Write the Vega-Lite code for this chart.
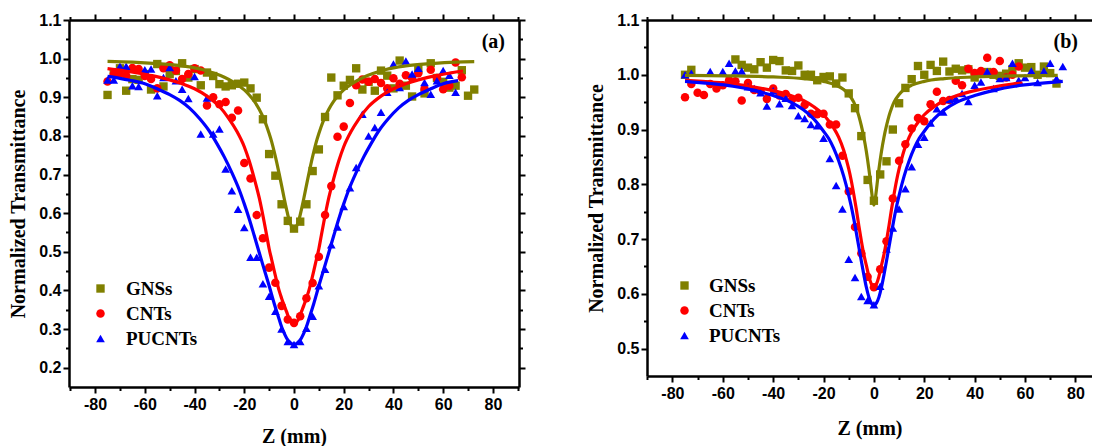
{
"$schema":"https://vega.github.io/schema/vega-lite/v6.json",
"background":"white",
"padding":{"left":8,"top":12,"right":0,"bottom":0},
"spacing":60,
"config":{
 "view":{"stroke":null},
 "axis":{"domainColor":"black","domainWidth":2.5,"tickColor":"black","tickWidth":2,"labelFont":"Liberation Sans","labelFontSize":16,"labelFontWeight":"bold","labelColor":"black","titleFont":"Liberation Serif, Times New Roman, serif","titleFontSize":20,"titleFontWeight":"bold","titleColor":"black","grid":false,"labelOverlap":false,"labelBound":false,"labelFlush":false},
 "legend":{"orient":"none","title":null,"labelFont":"Liberation Serif, Times New Roman, serif","labelFontSize":19,"labelFontWeight":"bold","labelColor":"black","rowPadding":5,"symbolStrokeWidth":0}
},
"datasets":{
"aP":[
{"s":"GNSs","z":-75,"t":0.906},{"s":"GNSs","z":-72.5,"t":0.962},{"s":"GNSs","z":-70,"t":0.975},{"s":"GNSs","z":-67.5,"t":0.917},{"s":"GNSs","z":-65,"t":0.947},{"s":"GNSs","z":-62.5,"t":0.945},{"s":"GNSs","z":-60,"t":0.96},{"s":"GNSs","z":-57.5,"t":0.92},{"s":"GNSs","z":-55,"t":0.986},{"s":"GNSs","z":-52.5,"t":0.928},{"s":"GNSs","z":-50,"t":0.96},{"s":"GNSs","z":-47.5,"t":0.968},{"s":"GNSs","z":-45,"t":0.988},{"s":"GNSs","z":-42.5,"t":0.951},{"s":"GNSs","z":-40,"t":0.973},{"s":"GNSs","z":-37.5,"t":0.931},{"s":"GNSs","z":-35,"t":0.964},{"s":"GNSs","z":-32.5,"t":0.955},{"s":"GNSs","z":-30,"t":0.934},{"s":"GNSs","z":-27.5,"t":0.928},{"s":"GNSs","z":-25,"t":0.931},{"s":"GNSs","z":-22.5,"t":0.935},{"s":"GNSs","z":-20,"t":0.938},{"s":"GNSs","z":-17.5,"t":0.923},{"s":"GNSs","z":-15,"t":0.899},{"s":"GNSs","z":-12.5,"t":0.843},{"s":"GNSs","z":-10,"t":0.753},{"s":"GNSs","z":-7.5,"t":0.697},{"s":"GNSs","z":-5,"t":0.623},{"s":"GNSs","z":-2.5,"t":0.58},{"s":"GNSs","z":0,"t":0.56},{"s":"GNSs","z":2.5,"t":0.578},{"s":"GNSs","z":5,"t":0.623},{"s":"GNSs","z":7.5,"t":0.709},{"s":"GNSs","z":10,"t":0.765},{"s":"GNSs","z":12.5,"t":0.849},{"s":"GNSs","z":15,"t":0.951},{"s":"GNSs","z":17.5,"t":0.905},{"s":"GNSs","z":20,"t":0.93},{"s":"GNSs","z":22.5,"t":0.945},{"s":"GNSs","z":25,"t":0.975},{"s":"GNSs","z":27.5,"t":0.92},{"s":"GNSs","z":30,"t":0.94},{"s":"GNSs","z":32.5,"t":0.917},{"s":"GNSs","z":35,"t":0.969},{"s":"GNSs","z":37.5,"t":0.956},{"s":"GNSs","z":40,"t":0.923},{"s":"GNSs","z":42.5,"t":0.995},{"s":"GNSs","z":45,"t":0.93},{"s":"GNSs","z":47.5,"t":0.902},{"s":"GNSs","z":50,"t":0.973},{"s":"GNSs","z":52.5,"t":0.91},{"s":"GNSs","z":55,"t":0.988},{"s":"GNSs","z":57.5,"t":0.95},{"s":"GNSs","z":60,"t":0.94},{"s":"GNSs","z":62.5,"t":0.925},{"s":"GNSs","z":65,"t":0.93},{"s":"GNSs","z":67.5,"t":0.97},{"s":"GNSs","z":70,"t":0.904},{"s":"GNSs","z":72.5,"t":0.92},
{"s":"CNTs","z":-75,"t":0.941},{"s":"CNTs","z":-72.5,"t":0.96},{"s":"CNTs","z":-70,"t":0.96},{"s":"CNTs","z":-67.5,"t":0.956},{"s":"CNTs","z":-65,"t":0.976},{"s":"CNTs","z":-62.5,"t":0.973},{"s":"CNTs","z":-60,"t":0.955},{"s":"CNTs","z":-57.5,"t":0.947},{"s":"CNTs","z":-55,"t":0.923},{"s":"CNTs","z":-52.5,"t":0.975},{"s":"CNTs","z":-50,"t":0.983},{"s":"CNTs","z":-47.5,"t":0.969},{"s":"CNTs","z":-45,"t":0.947},{"s":"CNTs","z":-42.5,"t":0.96},{"s":"CNTs","z":-40,"t":0.975},{"s":"CNTs","z":-37.5,"t":0.969},{"s":"CNTs","z":-35,"t":0.879},{"s":"CNTs","z":-32.5,"t":0.9},{"s":"CNTs","z":-30,"t":0.882},{"s":"CNTs","z":-27.5,"t":0.888},{"s":"CNTs","z":-25,"t":0.847},{"s":"CNTs","z":-22.5,"t":0.866},{"s":"CNTs","z":-20,"t":0.73},{"s":"CNTs","z":-17.5,"t":0.69},{"s":"CNTs","z":-15,"t":0.595},{"s":"CNTs","z":-12.5,"t":0.535},{"s":"CNTs","z":-10,"t":0.459},{"s":"CNTs","z":-7.5,"t":0.42},{"s":"CNTs","z":-5,"t":0.36},{"s":"CNTs","z":-2.5,"t":0.325},{"s":"CNTs","z":0,"t":0.316},{"s":"CNTs","z":2.5,"t":0.333},{"s":"CNTs","z":5,"t":0.38},{"s":"CNTs","z":7.5,"t":0.419},{"s":"CNTs","z":10,"t":0.487},{"s":"CNTs","z":12.5,"t":0.595},{"s":"CNTs","z":15,"t":0.67},{"s":"CNTs","z":17.5,"t":0.798},{"s":"CNTs","z":20,"t":0.824},{"s":"CNTs","z":22.5,"t":0.885},{"s":"CNTs","z":25,"t":0.931},{"s":"CNTs","z":27.5,"t":0.946},{"s":"CNTs","z":30,"t":0.94},{"s":"CNTs","z":32.5,"t":0.947},{"s":"CNTs","z":35,"t":0.937},{"s":"CNTs","z":37.5,"t":0.923},{"s":"CNTs","z":40,"t":0.949},{"s":"CNTs","z":42.5,"t":0.935},{"s":"CNTs","z":45,"t":0.957},{"s":"CNTs","z":47.5,"t":0.95},{"s":"CNTs","z":50,"t":0.962},{"s":"CNTs","z":52.5,"t":0.922},{"s":"CNTs","z":55,"t":0.971},{"s":"CNTs","z":57.5,"t":0.95},{"s":"CNTs","z":60,"t":0.921},{"s":"CNTs","z":62.5,"t":0.93},{"s":"CNTs","z":65,"t":0.99},{"s":"CNTs","z":67.5,"t":0.952},
{"s":"PUCNTs","z":-75,"t":0.945},{"s":"PUCNTs","z":-72.5,"t":0.945},{"s":"PUCNTs","z":-70,"t":0.98},{"s":"PUCNTs","z":-67.5,"t":0.98},{"s":"PUCNTs","z":-65,"t":0.93},{"s":"PUCNTs","z":-62.5,"t":0.928},{"s":"PUCNTs","z":-60,"t":0.971},{"s":"PUCNTs","z":-57.5,"t":0.973},{"s":"PUCNTs","z":-55,"t":0.904},{"s":"PUCNTs","z":-52.5,"t":0.951},{"s":"PUCNTs","z":-50,"t":0.977},{"s":"PUCNTs","z":-47.5,"t":0.943},{"s":"PUCNTs","z":-45,"t":0.921},{"s":"PUCNTs","z":-42.5,"t":0.897},{"s":"PUCNTs","z":-40,"t":0.954},{"s":"PUCNTs","z":-37.5,"t":0.805},{"s":"PUCNTs","z":-35,"t":0.898},{"s":"PUCNTs","z":-32.5,"t":0.805},{"s":"PUCNTs","z":-30,"t":0.818},{"s":"PUCNTs","z":-27.5,"t":0.714},{"s":"PUCNTs","z":-25,"t":0.658},{"s":"PUCNTs","z":-22.5,"t":0.61},{"s":"PUCNTs","z":-20,"t":0.563},{"s":"PUCNTs","z":-17.5,"t":0.486},{"s":"PUCNTs","z":-15,"t":0.486},{"s":"PUCNTs","z":-12.5,"t":0.417},{"s":"PUCNTs","z":-10,"t":0.385},{"s":"PUCNTs","z":-7.5,"t":0.346},{"s":"PUCNTs","z":-5,"t":0.3},{"s":"PUCNTs","z":-2.5,"t":0.268},{"s":"PUCNTs","z":0,"t":0.26},{"s":"PUCNTs","z":2.5,"t":0.268},{"s":"PUCNTs","z":5,"t":0.302},{"s":"PUCNTs","z":7.5,"t":0.333},{"s":"PUCNTs","z":10,"t":0.412},{"s":"PUCNTs","z":12.5,"t":0.455},{"s":"PUCNTs","z":15,"t":0.518},{"s":"PUCNTs","z":17.5,"t":0.564},{"s":"PUCNTs","z":20,"t":0.617},{"s":"PUCNTs","z":22.5,"t":0.666},{"s":"PUCNTs","z":25,"t":0.718},{"s":"PUCNTs","z":27.5,"t":0.856},{"s":"PUCNTs","z":30,"t":0.8},{"s":"PUCNTs","z":32.5,"t":0.822},{"s":"PUCNTs","z":35,"t":0.861},{"s":"PUCNTs","z":37.5,"t":0.913},{"s":"PUCNTs","z":40,"t":0.986},{"s":"PUCNTs","z":42.5,"t":0.925},{"s":"PUCNTs","z":45,"t":0.994},{"s":"PUCNTs","z":47.5,"t":0.96},{"s":"PUCNTs","z":50,"t":0.975},{"s":"PUCNTs","z":52.5,"t":0.938},{"s":"PUCNTs","z":55,"t":0.908},{"s":"PUCNTs","z":57.5,"t":0.943},{"s":"PUCNTs","z":60,"t":0.969},{"s":"PUCNTs","z":62.5,"t":0.957},{"s":"PUCNTs","z":65,"t":0.913}
],
"aF":[
{"s":"GNSs","z":-75,"t":0.993},{"s":"GNSs","z":-65,"t":0.991},{"s":"GNSs","z":-55,"t":0.987},{"s":"GNSs","z":-45,"t":0.981},{"s":"GNSs","z":-37,"t":0.972},{"s":"GNSs","z":-32,"t":0.962},{"s":"GNSs","z":-28,"t":0.952},{"s":"GNSs","z":-24,"t":0.938},{"s":"GNSs","z":-20,"t":0.919},{"s":"GNSs","z":-18,"t":0.906},{"s":"GNSs","z":-16,"t":0.89},{"s":"GNSs","z":-14,"t":0.869},{"s":"GNSs","z":-12,"t":0.842},{"s":"GNSs","z":-10,"t":0.806},{"s":"GNSs","z":-9,"t":0.785},{"s":"GNSs","z":-8,"t":0.76},{"s":"GNSs","z":-7,"t":0.733},{"s":"GNSs","z":-6,"t":0.703},{"s":"GNSs","z":-5,"t":0.672},{"s":"GNSs","z":-4,"t":0.64},{"s":"GNSs","z":-3,"t":0.61},{"s":"GNSs","z":-2,"t":0.583},{"s":"GNSs","z":-1,"t":0.566},{"s":"GNSs","z":0,"t":0.56},{"s":"GNSs","z":1,"t":0.566},{"s":"GNSs","z":2,"t":0.583},{"s":"GNSs","z":3,"t":0.61},{"s":"GNSs","z":4,"t":0.64},{"s":"GNSs","z":5,"t":0.672},{"s":"GNSs","z":6,"t":0.703},{"s":"GNSs","z":7,"t":0.733},{"s":"GNSs","z":8,"t":0.76},{"s":"GNSs","z":9,"t":0.785},{"s":"GNSs","z":10,"t":0.806},{"s":"GNSs","z":12,"t":0.842},{"s":"GNSs","z":14,"t":0.869},{"s":"GNSs","z":16,"t":0.89},{"s":"GNSs","z":18,"t":0.906},{"s":"GNSs","z":20,"t":0.919},{"s":"GNSs","z":24,"t":0.938},{"s":"GNSs","z":28,"t":0.952},{"s":"GNSs","z":32,"t":0.962},{"s":"GNSs","z":37,"t":0.972},{"s":"GNSs","z":45,"t":0.981},{"s":"GNSs","z":55,"t":0.987},{"s":"GNSs","z":65,"t":0.991},{"s":"GNSs","z":72.5,"t":0.992},
{"s":"CNTs","z":-75,"t":0.974},{"s":"CNTs","z":-68,"t":0.968},{"s":"CNTs","z":-63,"t":0.963},{"s":"CNTs","z":-57,"t":0.956},{"s":"CNTs","z":-50,"t":0.945},{"s":"CNTs","z":-45,"t":0.935},{"s":"CNTs","z":-40,"t":0.922},{"s":"CNTs","z":-35,"t":0.903},{"s":"CNTs","z":-30,"t":0.876},{"s":"CNTs","z":-26,"t":0.843},{"s":"CNTs","z":-23,"t":0.812},{"s":"CNTs","z":-20,"t":0.772},{"s":"CNTs","z":-18,"t":0.735},{"s":"CNTs","z":-16,"t":0.69},{"s":"CNTs","z":-14,"t":0.64},{"s":"CNTs","z":-13,"t":0.61},{"s":"CNTs","z":-12,"t":0.577},{"s":"CNTs","z":-11,"t":0.543},{"s":"CNTs","z":-10,"t":0.508},{"s":"CNTs","z":-9,"t":0.48},{"s":"CNTs","z":-8,"t":0.452},{"s":"CNTs","z":-7,"t":0.425},{"s":"CNTs","z":-6,"t":0.4},{"s":"CNTs","z":-5,"t":0.38},{"s":"CNTs","z":-4,"t":0.362},{"s":"CNTs","z":-3,"t":0.345},{"s":"CNTs","z":-2,"t":0.327},{"s":"CNTs","z":-1,"t":0.318},{"s":"CNTs","z":0,"t":0.315},{"s":"CNTs","z":1,"t":0.318},{"s":"CNTs","z":2,"t":0.327},{"s":"CNTs","z":3,"t":0.345},{"s":"CNTs","z":4,"t":0.362},{"s":"CNTs","z":5,"t":0.38},{"s":"CNTs","z":6,"t":0.4},{"s":"CNTs","z":7,"t":0.425},{"s":"CNTs","z":8,"t":0.452},{"s":"CNTs","z":9,"t":0.48},{"s":"CNTs","z":10,"t":0.508},{"s":"CNTs","z":11,"t":0.543},{"s":"CNTs","z":12,"t":0.577},{"s":"CNTs","z":13,"t":0.61},{"s":"CNTs","z":14,"t":0.64},{"s":"CNTs","z":16,"t":0.69},{"s":"CNTs","z":18,"t":0.735},{"s":"CNTs","z":20,"t":0.772},{"s":"CNTs","z":23,"t":0.812},{"s":"CNTs","z":26,"t":0.843},{"s":"CNTs","z":30,"t":0.876},{"s":"CNTs","z":35,"t":0.903},{"s":"CNTs","z":40,"t":0.922},{"s":"CNTs","z":45,"t":0.935},{"s":"CNTs","z":50,"t":0.945},{"s":"CNTs","z":57,"t":0.956},{"s":"CNTs","z":63,"t":0.963},{"s":"CNTs","z":68,"t":0.968},
{"s":"PUCNTs","z":-75,"t":0.954},{"s":"PUCNTs","z":-70,"t":0.949},{"s":"PUCNTs","z":-66,"t":0.944},{"s":"PUCNTs","z":-60,"t":0.935},{"s":"PUCNTs","z":-55,"t":0.922},{"s":"PUCNTs","z":-50,"t":0.907},{"s":"PUCNTs","z":-46,"t":0.892},{"s":"PUCNTs","z":-42,"t":0.872},{"s":"PUCNTs","z":-38,"t":0.845},{"s":"PUCNTs","z":-34,"t":0.812},{"s":"PUCNTs","z":-31,"t":0.78},{"s":"PUCNTs","z":-28,"t":0.745},{"s":"PUCNTs","z":-25,"t":0.705},{"s":"PUCNTs","z":-22,"t":0.66},{"s":"PUCNTs","z":-20,"t":0.624},{"s":"PUCNTs","z":-18,"t":0.585},{"s":"PUCNTs","z":-16,"t":0.542},{"s":"PUCNTs","z":-14,"t":0.498},{"s":"PUCNTs","z":-12,"t":0.455},{"s":"PUCNTs","z":-10,"t":0.412},{"s":"PUCNTs","z":-8,"t":0.367},{"s":"PUCNTs","z":-6,"t":0.326},{"s":"PUCNTs","z":-5,"t":0.306},{"s":"PUCNTs","z":-4,"t":0.29},{"s":"PUCNTs","z":-3,"t":0.277},{"s":"PUCNTs","z":-2,"t":0.268},{"s":"PUCNTs","z":-1,"t":0.262},{"s":"PUCNTs","z":0,"t":0.26},{"s":"PUCNTs","z":1,"t":0.262},{"s":"PUCNTs","z":2,"t":0.268},{"s":"PUCNTs","z":3,"t":0.277},{"s":"PUCNTs","z":4,"t":0.29},{"s":"PUCNTs","z":5,"t":0.306},{"s":"PUCNTs","z":6,"t":0.326},{"s":"PUCNTs","z":8,"t":0.367},{"s":"PUCNTs","z":10,"t":0.412},{"s":"PUCNTs","z":12,"t":0.455},{"s":"PUCNTs","z":14,"t":0.498},{"s":"PUCNTs","z":16,"t":0.542},{"s":"PUCNTs","z":18,"t":0.585},{"s":"PUCNTs","z":20,"t":0.624},{"s":"PUCNTs","z":22,"t":0.66},{"s":"PUCNTs","z":25,"t":0.705},{"s":"PUCNTs","z":28,"t":0.745},{"s":"PUCNTs","z":31,"t":0.78},{"s":"PUCNTs","z":34,"t":0.812},{"s":"PUCNTs","z":38,"t":0.845},{"s":"PUCNTs","z":42,"t":0.872},{"s":"PUCNTs","z":46,"t":0.892},{"s":"PUCNTs","z":50,"t":0.907},{"s":"PUCNTs","z":55,"t":0.922},{"s":"PUCNTs","z":60,"t":0.935},{"s":"PUCNTs","z":66,"t":0.943}
],
"bP":[
{"s":"GNSs","z":-75,"t":1.0},{"s":"GNSs","z":-72.5,"t":1.009},{"s":"GNSs","z":-55,"t":1.028},{"s":"GNSs","z":-52.5,"t":1.018},{"s":"GNSs","z":-50,"t":1.013},{"s":"GNSs","z":-47.5,"t":1.01},{"s":"GNSs","z":-45,"t":1.023},{"s":"GNSs","z":-42.5,"t":1.013},{"s":"GNSs","z":-40,"t":1.027},{"s":"GNSs","z":-37.5,"t":1.025},{"s":"GNSs","z":-35,"t":1.008},{"s":"GNSs","z":-32.5,"t":1.007},{"s":"GNSs","z":-30,"t":1.017},{"s":"GNSs","z":-27.5,"t":1.0},{"s":"GNSs","z":-25,"t":1.0},{"s":"GNSs","z":-22.5,"t":0.99},{"s":"GNSs","z":-20,"t":0.996},{"s":"GNSs","z":-17.5,"t":0.997},{"s":"GNSs","z":-15,"t":0.984},{"s":"GNSs","z":-12.5,"t":0.995},{"s":"GNSs","z":-10,"t":0.966},{"s":"GNSs","z":-7.5,"t":0.939},{"s":"GNSs","z":-5,"t":0.888},{"s":"GNSs","z":-2.5,"t":0.808},{"s":"GNSs","z":0,"t":0.77},{"s":"GNSs","z":2.5,"t":0.818},{"s":"GNSs","z":5,"t":0.842},{"s":"GNSs","z":7.5,"t":0.9},{"s":"GNSs","z":10,"t":0.948},{"s":"GNSs","z":12.5,"t":0.976},{"s":"GNSs","z":15,"t":0.992},{"s":"GNSs","z":17.5,"t":1.016},{"s":"GNSs","z":20,"t":1.0},{"s":"GNSs","z":22.5,"t":1.018},{"s":"GNSs","z":25,"t":1.007},{"s":"GNSs","z":27.5,"t":1.024},{"s":"GNSs","z":30,"t":1.006},{"s":"GNSs","z":32.5,"t":1.011},{"s":"GNSs","z":35,"t":1.008},{"s":"GNSs","z":37.5,"t":1.01},{"s":"GNSs","z":40,"t":0.995},{"s":"GNSs","z":42.5,"t":1.002},{"s":"GNSs","z":45,"t":1.005},{"s":"GNSs","z":47.5,"t":1.0},{"s":"GNSs","z":50,"t":0.998},{"s":"GNSs","z":52.5,"t":1.002},{"s":"GNSs","z":55,"t":1.01},{"s":"GNSs","z":57.5,"t":1.021},{"s":"GNSs","z":60,"t":1.013},{"s":"GNSs","z":62.5,"t":1.014},{"s":"GNSs","z":65,"t":1.0},{"s":"GNSs","z":67.5,"t":1.015},{"s":"GNSs","z":70,"t":1.003},{"s":"GNSs","z":72.5,"t":0.984},
{"s":"CNTs","z":-75,"t":0.959},{"s":"CNTs","z":-72.5,"t":0.983},{"s":"CNTs","z":-70,"t":0.967},{"s":"CNTs","z":-67.5,"t":0.963},{"s":"CNTs","z":-65,"t":0.983},{"s":"CNTs","z":-62.5,"t":0.975},{"s":"CNTs","z":-60,"t":0.981},{"s":"CNTs","z":-57.5,"t":0.99},{"s":"CNTs","z":-55,"t":0.988},{"s":"CNTs","z":-52.5,"t":0.953},{"s":"CNTs","z":-50,"t":0.985},{"s":"CNTs","z":-47.5,"t":0.972},{"s":"CNTs","z":-45,"t":0.97},{"s":"CNTs","z":-42.5,"t":0.956},{"s":"CNTs","z":-40,"t":0.975},{"s":"CNTs","z":-37.5,"t":0.962},{"s":"CNTs","z":-35,"t":0.965},{"s":"CNTs","z":-32.5,"t":0.955},{"s":"CNTs","z":-30,"t":0.958},{"s":"CNTs","z":-27.5,"t":0.945},{"s":"CNTs","z":-25,"t":0.929},{"s":"CNTs","z":-22.5,"t":0.928},{"s":"CNTs","z":-20,"t":0.929},{"s":"CNTs","z":-17.5,"t":0.909},{"s":"CNTs","z":-15,"t":0.909},{"s":"CNTs","z":-12.5,"t":0.852},{"s":"CNTs","z":-10,"t":0.787},{"s":"CNTs","z":-7.5,"t":0.722},{"s":"CNTs","z":-5,"t":0.674},{"s":"CNTs","z":-2.5,"t":0.631},{"s":"CNTs","z":0,"t":0.612},{"s":"CNTs","z":2.5,"t":0.645},{"s":"CNTs","z":5,"t":0.696},{"s":"CNTs","z":7.5,"t":0.774},{"s":"CNTs","z":10,"t":0.843},{"s":"CNTs","z":12.5,"t":0.873},{"s":"CNTs","z":15,"t":0.902},{"s":"CNTs","z":17.5,"t":0.921},{"s":"CNTs","z":20,"t":0.915},{"s":"CNTs","z":22.5,"t":0.946},{"s":"CNTs","z":25,"t":0.969},{"s":"CNTs","z":27.5,"t":0.952},{"s":"CNTs","z":30,"t":0.954},{"s":"CNTs","z":32.5,"t":0.989},{"s":"CNTs","z":35,"t":0.981},{"s":"CNTs","z":37.5,"t":1.011},{"s":"CNTs","z":40,"t":1.003},{"s":"CNTs","z":42.5,"t":1.007},{"s":"CNTs","z":45,"t":1.031},{"s":"CNTs","z":47.5,"t":1.005},{"s":"CNTs","z":50,"t":1.025},{"s":"CNTs","z":52.5,"t":0.995},{"s":"CNTs","z":55,"t":1.0},{"s":"CNTs","z":57.5,"t":1.015},
{"s":"PUCNTs","z":-75,"t":1.0},{"s":"PUCNTs","z":-72.5,"t":1.003},{"s":"PUCNTs","z":-65,"t":1.006},{"s":"PUCNTs","z":-60,"t":1.006},{"s":"PUCNTs","z":-57.5,"t":1.021},{"s":"PUCNTs","z":-55,"t":1.007},{"s":"PUCNTs","z":-52.5,"t":1.007},{"s":"PUCNTs","z":-50,"t":0.978},{"s":"PUCNTs","z":-47.5,"t":0.975},{"s":"PUCNTs","z":-45,"t":0.967},{"s":"PUCNTs","z":-42.5,"t":0.943},{"s":"PUCNTs","z":-40,"t":0.971},{"s":"PUCNTs","z":-37.5,"t":0.947},{"s":"PUCNTs","z":-35,"t":0.957},{"s":"PUCNTs","z":-32.5,"t":0.944},{"s":"PUCNTs","z":-30,"t":0.925},{"s":"PUCNTs","z":-27.5,"t":0.92},{"s":"PUCNTs","z":-25,"t":0.909},{"s":"PUCNTs","z":-22.5,"t":0.907},{"s":"PUCNTs","z":-20,"t":0.884},{"s":"PUCNTs","z":-17.5,"t":0.847},{"s":"PUCNTs","z":-15,"t":0.798},{"s":"PUCNTs","z":-12.5,"t":0.755},{"s":"PUCNTs","z":-10,"t":0.663},{"s":"PUCNTs","z":-7.5,"t":0.63},{"s":"PUCNTs","z":-5,"t":0.595},{"s":"PUCNTs","z":-2.5,"t":0.588},{"s":"PUCNTs","z":0,"t":0.58},{"s":"PUCNTs","z":2.5,"t":0.614},{"s":"PUCNTs","z":5,"t":0.682},{"s":"PUCNTs","z":7.5,"t":0.72},{"s":"PUCNTs","z":10,"t":0.755},{"s":"PUCNTs","z":12.5,"t":0.792},{"s":"PUCNTs","z":15,"t":0.832},{"s":"PUCNTs","z":17.5,"t":0.873},{"s":"PUCNTs","z":20,"t":0.886},{"s":"PUCNTs","z":22.5,"t":0.912},{"s":"PUCNTs","z":25,"t":0.938},{"s":"PUCNTs","z":27.5,"t":0.932},{"s":"PUCNTs","z":30,"t":0.955},{"s":"PUCNTs","z":32.5,"t":0.957},{"s":"PUCNTs","z":35,"t":0.966},{"s":"PUCNTs","z":37.5,"t":0.951},{"s":"PUCNTs","z":40,"t":0.981},{"s":"PUCNTs","z":42.5,"t":0.987},{"s":"PUCNTs","z":45,"t":1.006},{"s":"PUCNTs","z":47.5,"t":0.975},{"s":"PUCNTs","z":50,"t":0.993},{"s":"PUCNTs","z":52.5,"t":0.995},{"s":"PUCNTs","z":55,"t":1.021},{"s":"PUCNTs","z":57.5,"t":0.99},{"s":"PUCNTs","z":60,"t":0.995},{"s":"PUCNTs","z":62.5,"t":1.007},{"s":"PUCNTs","z":65,"t":0.986},{"s":"PUCNTs","z":67.5,"t":1.007},{"s":"PUCNTs","z":70,"t":1.021},{"s":"PUCNTs","z":72.5,"t":0.993},{"s":"PUCNTs","z":75,"t":1.015}
],
"bF":[
{"s":"GNSs","z":-75,"t":0.999},{"s":"GNSs","z":-55,"t":0.998},{"s":"GNSs","z":-40,"t":0.996},{"s":"GNSs","z":-28,"t":0.993},{"s":"GNSs","z":-20,"t":0.988},{"s":"GNSs","z":-15,"t":0.981},{"s":"GNSs","z":-12,"t":0.973},{"s":"GNSs","z":-10,"t":0.964},{"s":"GNSs","z":-8,"t":0.95},{"s":"GNSs","z":-7,"t":0.939},{"s":"GNSs","z":-6,"t":0.925},{"s":"GNSs","z":-5,"t":0.907},{"s":"GNSs","z":-4,"t":0.886},{"s":"GNSs","z":-3,"t":0.86},{"s":"GNSs","z":-2,"t":0.828},{"s":"GNSs","z":-1.5,"t":0.81},{"s":"GNSs","z":-1,"t":0.79},{"s":"GNSs","z":-0.5,"t":0.772},{"s":"GNSs","z":0,"t":0.762},{"s":"GNSs","z":0.5,"t":0.772},{"s":"GNSs","z":1,"t":0.79},{"s":"GNSs","z":1.5,"t":0.81},{"s":"GNSs","z":2,"t":0.828},{"s":"GNSs","z":3,"t":0.86},{"s":"GNSs","z":4,"t":0.886},{"s":"GNSs","z":5,"t":0.907},{"s":"GNSs","z":6,"t":0.925},{"s":"GNSs","z":7,"t":0.939},{"s":"GNSs","z":8,"t":0.95},{"s":"GNSs","z":10,"t":0.964},{"s":"GNSs","z":12,"t":0.973},{"s":"GNSs","z":15,"t":0.981},{"s":"GNSs","z":20,"t":0.988},{"s":"GNSs","z":28,"t":0.993},{"s":"GNSs","z":40,"t":0.996},{"s":"GNSs","z":55,"t":0.998},{"s":"GNSs","z":73,"t":0.999},
{"s":"CNTs","z":-75,"t":0.99},{"s":"CNTs","z":-68,"t":0.988},{"s":"CNTs","z":-60,"t":0.985},{"s":"CNTs","z":-55,"t":0.983},{"s":"CNTs","z":-48,"t":0.978},{"s":"CNTs","z":-40,"t":0.971},{"s":"CNTs","z":-33,"t":0.962},{"s":"CNTs","z":-28,"t":0.953},{"s":"CNTs","z":-24,"t":0.942},{"s":"CNTs","z":-20,"t":0.927},{"s":"CNTs","z":-18,"t":0.916},{"s":"CNTs","z":-16,"t":0.903},{"s":"CNTs","z":-14,"t":0.886},{"s":"CNTs","z":-12,"t":0.862},{"s":"CNTs","z":-11,"t":0.846},{"s":"CNTs","z":-10,"t":0.828},{"s":"CNTs","z":-9,"t":0.807},{"s":"CNTs","z":-8,"t":0.782},{"s":"CNTs","z":-7,"t":0.755},{"s":"CNTs","z":-6,"t":0.725},{"s":"CNTs","z":-5,"t":0.697},{"s":"CNTs","z":-4,"t":0.672},{"s":"CNTs","z":-3,"t":0.652},{"s":"CNTs","z":-2,"t":0.632},{"s":"CNTs","z":-1,"t":0.618},{"s":"CNTs","z":0,"t":0.613},{"s":"CNTs","z":1,"t":0.618},{"s":"CNTs","z":2,"t":0.632},{"s":"CNTs","z":3,"t":0.652},{"s":"CNTs","z":4,"t":0.672},{"s":"CNTs","z":5,"t":0.697},{"s":"CNTs","z":6,"t":0.725},{"s":"CNTs","z":7,"t":0.755},{"s":"CNTs","z":8,"t":0.782},{"s":"CNTs","z":9,"t":0.807},{"s":"CNTs","z":10,"t":0.828},{"s":"CNTs","z":11,"t":0.846},{"s":"CNTs","z":12,"t":0.862},{"s":"CNTs","z":14,"t":0.886},{"s":"CNTs","z":16,"t":0.903},{"s":"CNTs","z":18,"t":0.916},{"s":"CNTs","z":20,"t":0.927},{"s":"CNTs","z":24,"t":0.942},{"s":"CNTs","z":28,"t":0.953},{"s":"CNTs","z":33,"t":0.962},{"s":"CNTs","z":40,"t":0.971},{"s":"CNTs","z":48,"t":0.978},{"s":"CNTs","z":55,"t":0.983},{"s":"CNTs","z":59,"t":0.985},
{"s":"PUCNTs","z":-75,"t":0.988},{"s":"PUCNTs","z":-65,"t":0.984},{"s":"PUCNTs","z":-56,"t":0.979},{"s":"PUCNTs","z":-48,"t":0.972},{"s":"PUCNTs","z":-40,"t":0.962},{"s":"PUCNTs","z":-33,"t":0.95},{"s":"PUCNTs","z":-28,"t":0.936},{"s":"PUCNTs","z":-24,"t":0.92},{"s":"PUCNTs","z":-20,"t":0.897},{"s":"PUCNTs","z":-18,"t":0.884},{"s":"PUCNTs","z":-16,"t":0.866},{"s":"PUCNTs","z":-14,"t":0.843},{"s":"PUCNTs","z":-12,"t":0.815},{"s":"PUCNTs","z":-10,"t":0.78},{"s":"PUCNTs","z":-9,"t":0.76},{"s":"PUCNTs","z":-8,"t":0.737},{"s":"PUCNTs","z":-7,"t":0.712},{"s":"PUCNTs","z":-6,"t":0.686},{"s":"PUCNTs","z":-5,"t":0.66},{"s":"PUCNTs","z":-4,"t":0.635},{"s":"PUCNTs","z":-3,"t":0.612},{"s":"PUCNTs","z":-2,"t":0.594},{"s":"PUCNTs","z":-1,"t":0.583},{"s":"PUCNTs","z":0,"t":0.579},{"s":"PUCNTs","z":1,"t":0.583},{"s":"PUCNTs","z":2,"t":0.594},{"s":"PUCNTs","z":3,"t":0.612},{"s":"PUCNTs","z":4,"t":0.635},{"s":"PUCNTs","z":5,"t":0.66},{"s":"PUCNTs","z":6,"t":0.686},{"s":"PUCNTs","z":7,"t":0.712},{"s":"PUCNTs","z":8,"t":0.737},{"s":"PUCNTs","z":9,"t":0.76},{"s":"PUCNTs","z":10,"t":0.78},{"s":"PUCNTs","z":12,"t":0.815},{"s":"PUCNTs","z":14,"t":0.843},{"s":"PUCNTs","z":16,"t":0.866},{"s":"PUCNTs","z":18,"t":0.884},{"s":"PUCNTs","z":20,"t":0.897},{"s":"PUCNTs","z":24,"t":0.92},{"s":"PUCNTs","z":28,"t":0.936},{"s":"PUCNTs","z":33,"t":0.95},{"s":"PUCNTs","z":40,"t":0.962},{"s":"PUCNTs","z":48,"t":0.972},{"s":"PUCNTs","z":56,"t":0.979},{"s":"PUCNTs","z":65,"t":0.984},{"s":"PUCNTs","z":75,"t":0.988}
]
},
"resolve":{"scale":{"color":"independent","shape":"independent","size":"independent","stroke":"independent"}},
"hconcat":[
{
 "width":450,"height":367,
 "title":{"text":"(a)","anchor":"end","frame":"group","offset":-40,"dx":-14,"font":"Liberation Serif, Times New Roman, serif","fontSize":20,"fontWeight":"bold","color":"black"},
 "resolve":{"axis":{"x":"independent","y":"independent"}},
 "layer":[
  {"data":{"name":"aP"},
   "mark":{"type":"point","filled":true,"opacity":1},
   "encoding":{
    "x":{"field":"z","type":"quantitative","scale":{"domain":[-90.5,90.5],"nice":false,"zero":false},
      "axis":{"orient":"bottom","title":"Z (mm)","values":[-90,-80,-70,-60,-50,-40,-30,-20,-10,0,10,20,30,40,50,60,70,80,90],
       "labelExpr":"datum.value % 20 === 0 ? (datum.value < 0 ? '-' + abs(datum.value) : '' + datum.value) : ''",
       "tickSize":{"condition":{"test":"datum.value % 20 === 0","value":6},"value":3.5},"labelPadding":3,"titlePadding":14}},
    "y":{"field":"t","type":"quantitative","scale":{"domain":[0.15,1.1],"nice":false,"zero":false},
      "axis":{"orient":"left","title":"Normalized Transmittance","values":[0.2,0.25,0.3,0.35,0.4,0.45,0.5,0.55,0.6,0.65,0.7,0.75,0.8,0.85,0.9,0.95,1.0,1.05,1.1],
       "labelExpr":"abs(datum.value*10-round(datum.value*10)) < 0.001 ? format(datum.value,'.1f') : ''",
       "tickSize":{"condition":{"test":"abs(datum.value*10-round(datum.value*10)) < 0.001","value":6},"value":3.5},"labelPadding":2,"titlePadding":10}},
    "color":{"field":"s","type":"nominal","scale":{"domain":["GNSs","CNTs","PUCNTs"],"range":["#808000","#ff0000","#0000ff"]},"legend":{"orient":"none","legendX":22,"legendY":259,"labelOffset":16}},
    "shape":{"field":"s","type":"nominal","scale":{"domain":["GNSs","CNTs","PUCNTs"],"range":["square","circle","triangle-up"]},"legend":{"orient":"none","legendX":22,"legendY":259,"labelOffset":16}},
    "size":{"field":"s","type":"nominal","scale":{"domain":["GNSs","CNTs","PUCNTs"],"range":[70,75,110]},"legend":{"orient":"none","legendX":22,"legendY":259,"labelOffset":16}}
   }},
  {"data":{"name":"aF"},
   "mark":{"type":"line","strokeWidth":3.2,"interpolate":"monotone"},
   "encoding":{
    "x":{"field":"z","type":"quantitative","axis":{"orient":"top","labels":false,"title":null,"values":[-90,-80,-70,-60,-50,-40,-30,-20,-10,0,10,20,30,40,50,60,70,80,90],"tickSize":{"condition":{"test":"datum.value % 20 === 0","value":6},"value":3.5}}},
    "y":{"field":"t","type":"quantitative","axis":{"orient":"right","labels":false,"title":null,"values":[0.2,0.25,0.3,0.35,0.4,0.45,0.5,0.55,0.6,0.65,0.7,0.75,0.8,0.85,0.9,0.95,1.0,1.05,1.1],"tickSize":{"condition":{"test":"abs(datum.value*10-round(datum.value*10)) < 0.001","value":6},"value":3.5}}},
    "stroke":{"field":"s","type":"nominal","scale":{"domain":["GNSs","CNTs","PUCNTs"],"range":["#808000","#ff0000","#0000ff"]},"legend":null},
    "detail":{"field":"s"}
   }}
 ]
},
{
 "width":445,"height":356,
 "title":{"text":"(b)","anchor":"end","frame":"group","offset":-40,"dx":-14,"font":"Liberation Serif, Times New Roman, serif","fontSize":20,"fontWeight":"bold","color":"black"},
 "resolve":{"axis":{"x":"independent","y":"independent"}},
 "layer":[
  {"data":{"name":"bP"},
   "mark":{"type":"point","filled":true,"opacity":1},
   "encoding":{
    "x":{"field":"z","type":"quantitative","scale":{"domain":[-90.1,86.6],"nice":false,"zero":false},
      "axis":{"orient":"bottom","title":"Z (mm)","values":[-90,-80,-70,-60,-50,-40,-30,-20,-10,0,10,20,30,40,50,60,70,80],
       "labelExpr":"datum.value % 20 === 0 ? (datum.value < 0 ? '-' + abs(datum.value) : '' + datum.value) : ''",
       "tickSize":{"condition":{"test":"datum.value % 20 === 0","value":6},"value":3.5},"labelPadding":3,"titlePadding":17}},
    "y":{"field":"t","type":"quantitative","scale":{"domain":[0.45,1.1],"nice":false,"zero":false},
      "axis":{"orient":"left","title":"Normalized Transmittance","values":[0.5,0.55,0.6,0.65,0.7,0.75,0.8,0.85,0.9,0.95,1.0,1.05,1.1],
       "labelExpr":"abs(datum.value*10-round(datum.value*10)) < 0.001 ? format(datum.value,'.1f') : ''",
       "tickSize":{"condition":{"test":"abs(datum.value*10-round(datum.value*10)) < 0.001","value":6},"value":3.5},"labelPadding":2,"titlePadding":10}},
    "color":{"field":"s","type":"nominal","scale":{"domain":["GNSs","CNTs","PUCNTs"],"range":["#808000","#ff0000","#0000ff"]},"legend":{"orient":"none","legendX":28,"legendY":256,"labelOffset":15}},
    "shape":{"field":"s","type":"nominal","scale":{"domain":["GNSs","CNTs","PUCNTs"],"range":["square","circle","triangle-up"]},"legend":{"orient":"none","legendX":28,"legendY":256,"labelOffset":15}},
    "size":{"field":"s","type":"nominal","scale":{"domain":["GNSs","CNTs","PUCNTs"],"range":[70,75,110]},"legend":{"orient":"none","legendX":28,"legendY":256,"labelOffset":15}}
   }},
  {"data":{"name":"bF"},
   "mark":{"type":"line","strokeWidth":3.2,"interpolate":"monotone"},
   "encoding":{
    "x":{"field":"z","type":"quantitative","axis":{"orient":"top","labels":false,"title":null,"values":[-90,-80,-70,-60,-50,-40,-30,-20,-10,0,10,20,30,40,50,60,70,80],"tickSize":{"condition":{"test":"datum.value % 20 === 0","value":6},"value":3.5}}},
    "y":{"field":"t","type":"quantitative","axis":null},
    "stroke":{"field":"s","type":"nominal","scale":{"domain":["GNSs","CNTs","PUCNTs"],"range":["#808000","#ff0000","#0000ff"]},"legend":null},
    "detail":{"field":"s"}
   }}
 ]
}
]
}
